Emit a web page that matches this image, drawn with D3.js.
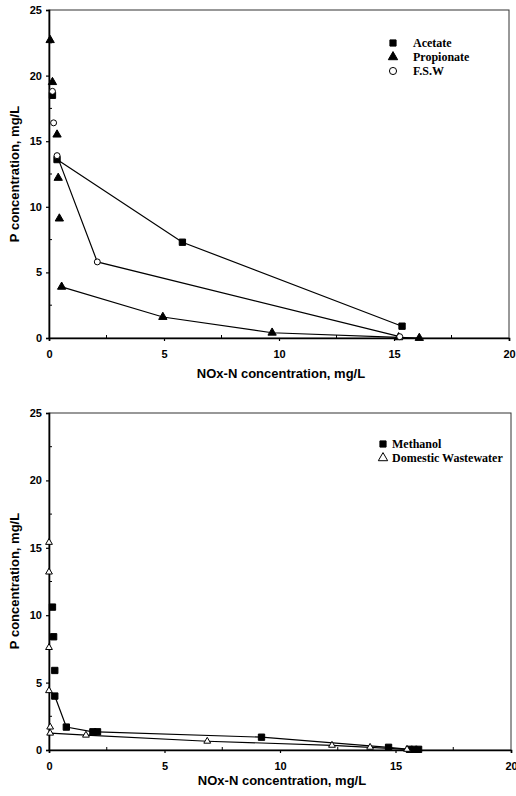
<!DOCTYPE html>
<html>
<head>
<meta charset="utf-8">
<script src="https://cdn.jsdelivr.net/npm/d3@7"></script>
<style>
  body { margin: 0; background: #fff; }
  svg { display: block; }
  .tick text { font-family: "Liberation Sans", Arial, sans-serif; font-weight: bold; font-size: 11px; }
  .title { font-family: "Liberation Sans", Arial, sans-serif; font-weight: bold; font-size: 13px; }
  .legend { font-family: "Liberation Serif", "Times New Roman", serif; font-weight: bold; font-size: 12px; }
</style>
</head>
<body>
<div id="chart"></div>
<script>
// tick labels
var xTicks = [0, 5, 10, 15, 20];
var yTicks = [0, 5, 10, 15, 20, 25];

// top panel: [NOx-N, P] pairs, line drawn from lineFrom onward
var acetate = [[0.15, 18.5], [0.35, 13.6], [5.8, 7.3], [15.35, 0.9]];
var propionate = [[0.05, 22.7], [0.15, 19.5], [0.35, 15.5], [0.4, 12.2], [0.45, 9.1],
                  [0.55, 3.9], [4.95, 1.6], [9.7, 0.4], [15.2, 0.05], [16.1, 0]];
var fsw = [[0.15, 18.8], [0.2, 16.4], [0.35, 13.9], [2.1, 5.8], [15.25, 0.1]];

// bottom panel
var methanol = [[0.15, 10.6], [0.2, 8.4], [0.25, 5.9], [0.25, 4.0], [0.75, 1.7], [1.9, 1.35],
                [2.1, 1.35], [9.2, 0.95], [14.7, 0.2], [15.6, 0.05], [15.8, 0.05], [16.0, 0.05]];
var domestic = [[0.0, 15.4], [0.0, 13.2], [0.0, 7.6], [0.0, 4.4], [0.05, 1.7], [0.05, 1.25],
                [1.6, 1.1], [6.85, 0.65], [12.25, 0.35], [13.9, 0.2], [15.5, 0.05]];

var width = 516, height = 796;
var svg = d3.select("#chart").append("svg").attr("width", width).attr("height", height);

var panels = [
  {
    x0: 49, x1: 509, y0: 338, y1: 10, titleY: 378, yTitleY: 174,
    series: [
      { name: "Acetate", data: acetate, lineFrom: 1, shape: "square", fill: "#000", size: 40 },
      { name: "Propionate", data: propionate, lineFrom: 5, shape: "triangle", fill: "#000", size: 30 },
      { name: "F.S.W", data: fsw, lineFrom: 2, shape: "circle", fill: "#fff", size: 28 }
    ],
    legend: { x: 393, y: 43, textX: 413, gap: 14 }
  },
  {
    x0: 49, x1: 511, y0: 750, y1: 413, titleY: 785, yTitleY: 581,
    series: [
      { name: "Methanol", data: methanol, lineFrom: 3, shape: "square", fill: "#000", size: 40 },
      { name: "Domestic Wastewater", data: domestic, lineFrom: 5, shape: "triangle", fill: "#fff", size: 20 }
    ],
    legend: { x: 383, y: 444, textX: 392, gap: 14 }
  }
];

function symbolFor(shape, size) {
  var t = shape == "square" ? d3.symbolSquare : shape == "triangle" ? d3.symbolTriangle : d3.symbolCircle;
  return d3.symbol().type(t).size(size)();
}

panels.forEach(function (p) {
  var x = d3.scaleLinear().domain([0, 20]).range([p.x0, p.x1]);
  var y = d3.scaleLinear().domain([0, 25]).range([p.y0, p.y1]);
  var g = svg.append("g");

  // frame
  g.append("rect")
    .attr("x", p.x0).attr("y", p.y1)
    .attr("width", p.x1 - p.x0).attr("height", p.y0 - p.y1)
    .attr("fill", "none").attr("stroke", "#333").attr("stroke-width", 1);

  // minor ticks inside
  g.selectAll(".mx").data(d3.range(2.5, 20, 5)).enter().append("line")
    .attr("x1", function (d) { return x(d); }).attr("x2", function (d) { return x(d); })
    .attr("y1", p.y0).attr("y2", p.y0 - 3).attr("stroke", "#000");
  g.selectAll(".my").data(d3.range(2.5, 25, 5)).enter().append("line")
    .attr("y1", function (d) { return y(d); }).attr("y2", function (d) { return y(d); })
    .attr("x1", p.x0).attr("x2", p.x0 + 3).attr("stroke", "#000");

  var xAxis = g.append("g").attr("transform", "translate(0," + p.y0 + ")")
    .call(d3.axisBottom(x).tickValues(xTicks).tickSize(3).tickPadding(9));
  var yAxis = g.append("g").attr("transform", "translate(" + p.x0 + ",0)")
    .call(d3.axisLeft(y).tickValues(yTicks).tickSize(3).tickPadding(4));
  [xAxis, yAxis].forEach(function (a) {
    a.select(".domain").attr("stroke", "#000").attr("stroke-width", 1.6);
    a.selectAll(".tick line").attr("stroke", "#000").attr("stroke-width", 1.2);
  });

  g.append("text").attr("class", "title")
    .attr("x", (p.x0 + p.x1) / 2 + 2).attr("y", p.titleY)
    .attr("text-anchor", "middle").text("NOx-N concentration, mg/L");
  g.append("text").attr("class", "title")
    .attr("transform", "translate(19," + p.yTitleY + ") rotate(-90)")
    .attr("text-anchor", "middle").text("P concentration, mg/L");

  var line = d3.line().x(function (d) { return x(d[0]); }).y(function (d) { return y(d[1]); });

  p.series.forEach(function (s) {
    g.append("path")
      .datum(s.data.slice(s.lineFrom))
      .attr("d", line)
      .attr("fill", "none").attr("stroke", "#000").attr("stroke-width", 1.2);
  });

  p.series.forEach(function (s) {
    g.selectAll(null).data(s.data).enter().append("path")
      .attr("d", symbolFor(s.shape, s.size))
      .attr("transform", function (d) { return "translate(" + x(d[0]) + "," + y(d[1]) + ")"; })
      .attr("fill", s.fill).attr("stroke", "#000").attr("stroke-width", 1);
  });

  // legend
  p.series.forEach(function (s, i) {
    var ly = p.legend.y + i * p.legend.gap;
    var size = s.shape == "circle" ? 40 : 38;
    g.append("path")
      .attr("d", symbolFor(s.shape, size))
      .attr("transform", "translate(" + p.legend.x + "," + ly + ")")
      .attr("fill", s.fill).attr("stroke", "#000").attr("stroke-width", 1);
    g.append("text").attr("class", "legend")
      .attr("x", p.legend.textX).attr("y", ly + 4).text(s.name);
  });
});
</script>
</body>
</html>
